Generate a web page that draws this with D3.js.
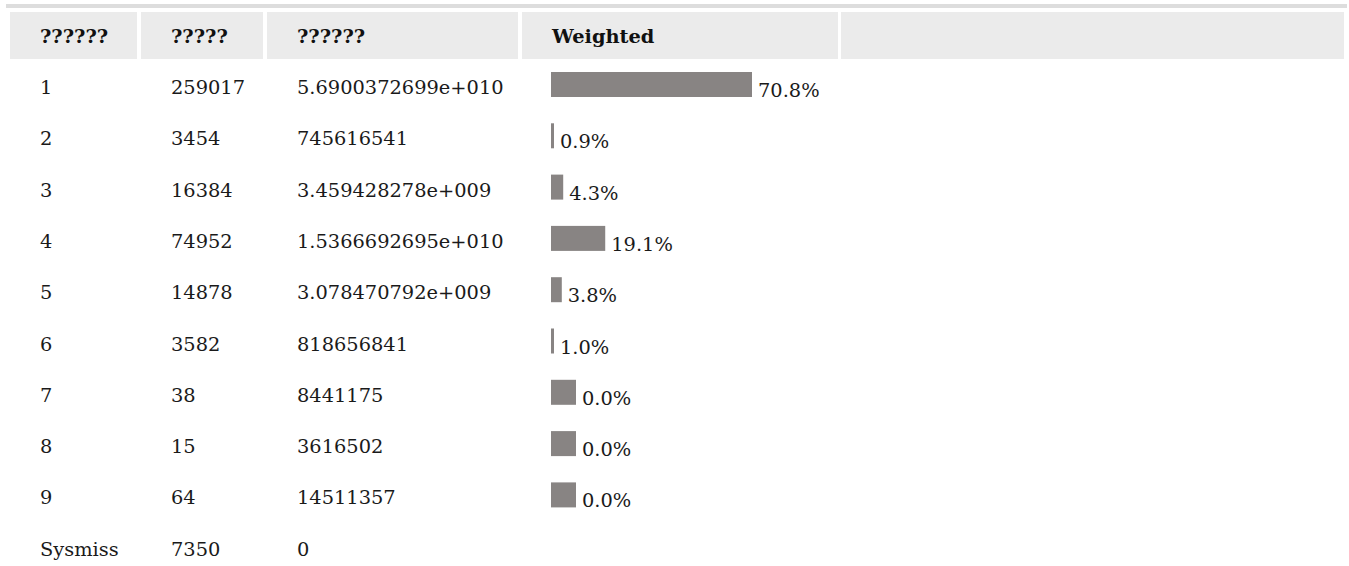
<!DOCTYPE html>
<html>
<head>
<meta charset="utf-8">
<script src="https://cdn.jsdelivr.net/npm/d3@7"></script>
<style>
  html, body { margin: 0; padding: 0; background: #fff; }
  svg { display: block; font-family: "DejaVu Serif", serif; }
</style>
</head>
<body>
<svg id="chart" width="1349" height="566"></svg>
<script>
// table data
const headers = ['??????', '?????', '??????', 'Weighted', ''];
const categories = ['1', '2', '3', '4', '5', '6', '7', '8', '9', 'Sysmiss'];
const counts = ['259017', '3454', '16384', '74952', '14878', '3582', '38', '15', '64', '7350'];
const weighted = ['5.6900372699e+010', '745616541', '3.459428278e+009', '1.5366692695e+010',
  '3.078470792e+009', '818656841', '8441175', '3616502', '14511357', '0'];
const percents = [70.8, 0.9, 4.3, 19.1, 3.8, 1.0, 0.0, 0.0, 0.0, null];

const svg = d3.select('#chart');
const fontSize = 19.4;
const pad = 30;
const barH = 25;

// column cells (left, right)
const cols = [[10, 137], [141, 263], [267, 518], [522, 838], [841, 1344]];

// rows: baseline of each data row
const y = d3.scalePoint().domain(categories).range([94, 94 + 51.3 * 9]);
const x = d3.scaleLinear().domain([0, 70.8]).range([0, 201]);

// top rule
svg.append('rect').attr('x', 6).attr('y', 4).attr('width', 1341).attr('height', 4).attr('fill', '#dddddd');

// header cells
svg.selectAll('rect.head')
  .data(cols)
  .join('rect')
  .attr('class', 'head')
  .attr('x', d => d[0]).attr('y', 12)
  .attr('width', d => d[1] - d[0]).attr('height', 47)
  .attr('fill', '#ebebeb');

svg.selectAll('text.head')
  .data(headers)
  .join('text')
  .attr('class', 'head')
  .attr('x', (d, i) => cols[i][0] + pad)
  .attr('y', 43)
  .attr('font-size', fontSize)
  .attr('font-weight', 'bold')
  .attr('fill', '#111')
  .text(d => d);

const rows = categories.map((c, i) => ({ c, n: counts[i], w: weighted[i], p: percents[i] }));

const g = svg.selectAll('g.row')
  .data(rows)
  .join('g')
  .attr('class', 'row')
  .attr('transform', d => `translate(0,${y(d.c)})`);

[['c', 0], ['n', 1], ['w', 2]].forEach(([k, ci]) => {
  g.append('text')
    .attr('x', cols[ci][0] + pad)
    .attr('font-size', fontSize)
    .attr('fill', '#1a1a1a')
    .text(d => d[k]);
});

const barW = p => p === 0 ? barH : Math.max(3, x(p));
const withBar = g.filter(d => d.p !== null);

withBar.append('rect')
  .attr('x', cols[3][0] + 29)
  .attr('y', 3 - barH)
  .attr('width', d => barW(d.p))
  .attr('height', barH)
  .attr('fill', '#888483');

withBar.append('text')
  .attr('x', d => cols[3][0] + 29 + barW(d.p) + 6)
  .attr('y', 3)
  .attr('font-size', fontSize)
  .attr('fill', '#1a1a1a')
  .text(d => d.p.toFixed(1) + '%');
</script>
</body>
</html>
